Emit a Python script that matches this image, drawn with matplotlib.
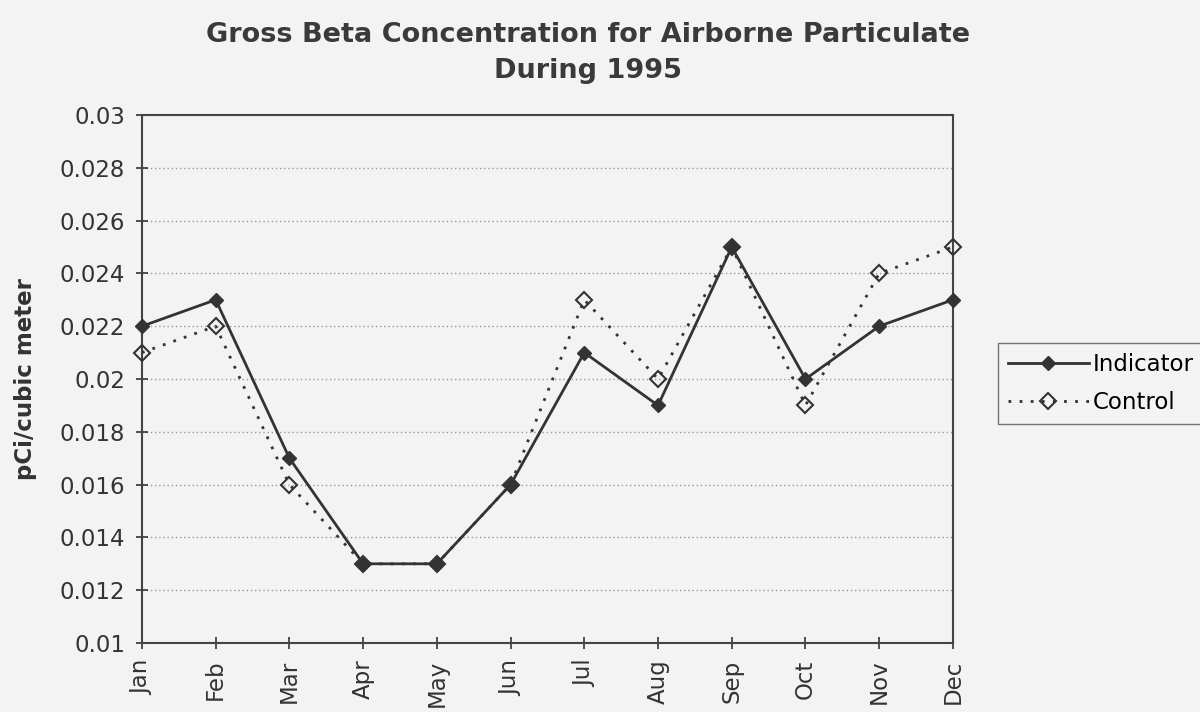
import matplotlib
matplotlib.use("Agg")
import matplotlib.pyplot as plt

months = ["Jan", "Feb", "Mar", "Apr", "May", "Jun", "Jul", "Aug", "Sep", "Oct", "Nov", "Dec"]
indicator = [0.022, 0.023, 0.017, 0.013, 0.013, 0.016, 0.021, 0.019, 0.025, 0.020, 0.022, 0.023]
control = [0.021, 0.022, 0.016, 0.013, 0.013, 0.016, 0.023, 0.020, 0.025, 0.019, 0.024, 0.025]
yticks = [0.01, 0.012, 0.014, 0.016, 0.018, 0.02, 0.022, 0.024, 0.026, 0.028, 0.03]
ylabels = ["0.01", "0.012", "0.014", "0.016", "0.018", "0.02", "0.022", "0.024", "0.026", "0.028", "0.03"]

plt.rcParams['font.family'] = ['DejaVu Sans']
bg = '#f3f3f3'
ink = '#333333'

fig = plt.figure(figsize=(12, 7.12), dpi=100, facecolor=bg)
ax = fig.add_axes([0.1183, 0.0969, 0.6758, 0.7416])
ax.set_facecolor(bg)

x = list(range(len(months)))
ax.plot(x, indicator, color=ink, lw=2, marker='D', ms=7, mfc=ink, mec=ink, label='Indicator',
        clip_on=False, zorder=4)
ax.plot(x, control, color=ink, lw=2, ls=(0, (1, 3)), marker='D', ms=8, mfc='none',
        mec=ink, mew=1.5, label='Control', clip_on=False, zorder=3)

ax.set_xlim(0, 11)
ax.set_ylim(0.01, 0.03)
ax.set_yticks(yticks)
ax.set_yticklabels(ylabels, fontsize=16.5, color=ink)
ax.set_xticks(x)
ax.set_xticklabels(months, rotation=90, fontsize=16.5, color=ink)
ax.tick_params(axis='both', direction='inout', length=8, width=1.2, colors=ink, pad=8)
ax.grid(axis='y', color='#999999', ls=(0, (1, 2)), lw=1)
for s in ax.spines.values():
    s.set_color('#444444')
    s.set_linewidth(1.5)

ax.set_ylabel('pCi/cubic meter', fontsize=16.5, fontweight='bold', color=ink)
ax.yaxis.set_label_coords(-0.129, 0.5)
fig.text(0.49, 0.925, 'Gross Beta Concentration for Airborne Particulate\nDuring 1995',
         ha='center', va='center', fontsize=19.5, fontweight='bold', color='#3a3a3a',
         linespacing=1.5)

leg = fig.legend(loc='upper left', bbox_to_anchor=(0.8317, 0.5183), fontsize=16.5,
                 frameon=True, fancybox=False, edgecolor='#555555', facecolor=bg,
                 handlelength=3.5, handletextpad=0.2, borderpad=0.45, labelspacing=0.65,
                 borderaxespad=0)

fig.savefig('out.png', dpi=100, facecolor=bg)
